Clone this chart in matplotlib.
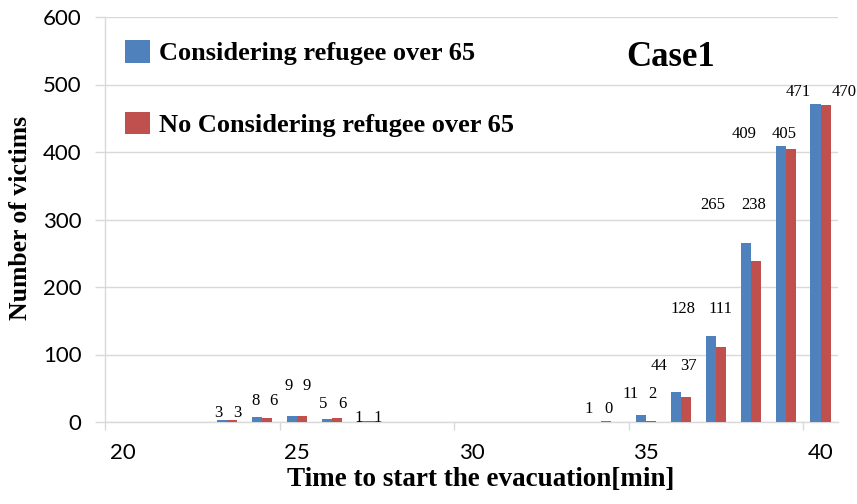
import matplotlib
matplotlib.use("Agg")
import matplotlib.pyplot as plt

minutes = [23, 24, 25, 26, 27, 34, 35, 36, 37, 38, 39, 40]
with_over65 = [3, 8, 9, 5, 1, 1, 11, 44, 128, 265, 409, 471]
without_over65 = [3, 6, 9, 6, 1, 0, 2, 37, 111, 238, 405, 470]
x_ticks = [20, 25, 30, 35, 40]
y_ticks = [0, 100, 200, 300, 400, 500, 600]

# where the data labels sit (excel moved them around to avoid overlap)
label_y = [13, 31, 53, 27, 6, 19, 41, 83, 168, 322, 426, 489]
blue_dx = [-9, -7, -8, -9, -8, -22, -15, -22, -33, -38, -42, -22]
red_dx = [10, 11, 10, 11, 11, -3, 6, 8, 5, 3, -2, 24]

blue = "#4F81BD"
red = "#C0504D"
grid_c = "#D9D9D9"
serif = "Liberation Serif"

plt.rcParams["font.family"] = ["Lato", "DejaVu Sans"]

fig = plt.figure(figsize=(8.57, 5.04), dpi=100)
ax = fig.add_axes([105 / 857, 1 - 422 / 504, 733 / 857, 405 / 504])

w = 0.29
b1 = ax.bar([m - w / 2 for m in minutes], with_over65, w, color=blue,
            label="Considering refugee over 65", zorder=3)
b2 = ax.bar([m + w / 2 for m in minutes], without_over65, w, color=red,
            label="No Considering refugee over 65", zorder=3)

for i, m in enumerate(minutes):
    ax.annotate(str(with_over65[i]), (m, label_y[i]), xytext=(blue_dx[i], 0),
                textcoords="offset pixels", ha="center", va="center",
                fontsize=12, family=serif)
    ax.annotate(str(without_over65[i]), (m, label_y[i]), xytext=(red_dx[i], 0),
                textcoords="offset pixels", ha="center", va="center",
                fontsize=12, family=serif)

ax.set_xlim(19.5, 40.5)
ax.set_ylim(0, 600)
ax.set_yticks(y_ticks)
ax.set_xticks(x_ticks)
ax.set_xticks([t - 0.5 for t in x_ticks], minor=True)
ax.tick_params(axis="x", which="major", length=0, pad=15, labelsize=16)
ax.tick_params(axis="x", which="minor", length=6, color=grid_c, width=1)
ax.tick_params(axis="y", length=7, color=grid_c, width=1, pad=10, labelsize=16)
ax.yaxis.grid(True, color=grid_c, linewidth=1)
ax.set_axisbelow(True)
for s in ["top", "right"]:
    ax.spines[s].set_visible(False)
for s in ["left", "bottom"]:
    ax.spines[s].set_color(grid_c)
    ax.spines[s].set_linewidth(1)

ax.set_xlabel("Time to start the evacuation[min]", family=serif,
              fontweight="bold", fontsize=19.5)
ax.xaxis.set_label_coords(0.512, -0.112)
ax.set_ylabel("Number of victims", family=serif, fontweight="bold", fontsize=18.5)
ax.yaxis.set_label_coords(-0.1, 0.505)

fig.text(671 / 857, 1 - 57 / 504, "Case1", fontsize=25, fontweight="bold",
         family=serif, ha="center", va="center")

ax.legend(handles=[b1, b2], loc="upper left",
          bbox_to_anchor=(125 / 857, 1 - 40 / 504), bbox_transform=fig.transFigure,
          frameon=False, borderpad=0, borderaxespad=0, handlelength=0.95,
          handleheight=0.95, handletextpad=0.35, labelspacing=1.75,
          prop={"family": serif, "weight": "bold", "size": 19})

fig.savefig("out.png", dpi=100)
